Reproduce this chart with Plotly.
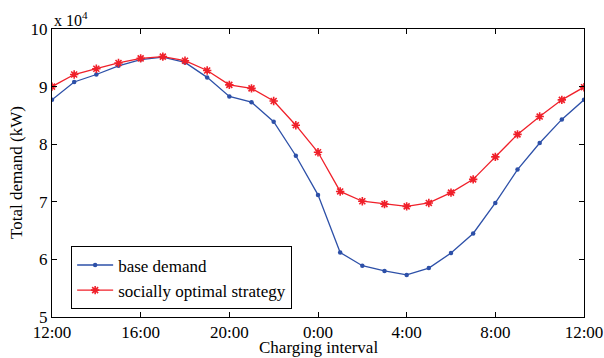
import plotly.graph_objects as go

hours = list(range(25))
tick_pos = [0, 4, 8, 12, 16, 20, 24]
tick_text = ["12:00", "16:00", "20:00", "0:00", "4:00", "8:00", "12:00"]
y_ticks = [5, 6, 7, 8, 9, 10]

# Demand in units of 10^4 kW
base_demand = [8.77, 9.08, 9.21, 9.36, 9.47, 9.51, 9.42, 9.16, 8.83, 8.73, 8.39,
               7.80, 7.12, 6.12, 5.89, 5.80, 5.73, 5.85, 6.11, 6.45, 6.98, 7.56,
               8.02, 8.43, 8.77]
social_opt = [9.00, 9.21, 9.31, 9.41, 9.49, 9.52, 9.45, 9.28, 9.03, 8.97, 8.75,
              8.33, 7.86, 7.18, 7.01, 6.96, 6.92, 6.98, 7.16, 7.39, 7.78, 8.17,
              8.48, 8.77, 8.99]

BLUE = "#2d50a8"
RED = "#f0202a"
FONT = "Liberation Serif"

fig = go.Figure()
fig.add_trace(go.Scatter(
    x=hours, y=base_demand, mode="lines+markers", name="base demand",
    line=dict(color=BLUE, width=1.3),
    marker=dict(color=BLUE, size=4.5, symbol="circle"),
))
fig.add_trace(go.Scatter(
    x=hours, y=social_opt, mode="lines+markers", name="socially optimal strategy",
    line=dict(color=RED, width=1.3),
    marker=dict(color=RED, size=7, symbol="asterisk-open", line=dict(color=RED, width=1.6)),
))

axis_common = dict(
    showline=True, linecolor="black", linewidth=1, mirror="ticks",
    ticks="inside", ticklen=5, tickcolor="black", showgrid=False, zeroline=False,
    tickfont=dict(family=FONT, size=17, color="black"), automargin=False,
)

fig.update_layout(
    width=604, height=358,
    margin=dict(l=52, r=20, t=29, b=41),
    paper_bgcolor="white", plot_bgcolor="white",
    font=dict(family=FONT, color="black"),
    showlegend=True,
    legend=dict(
        x=0.036, y=0.245, xanchor="left", yanchor="top",
        bgcolor="white", bordercolor="black", borderwidth=1,
        font=dict(family=FONT, size=17, color="black"),
        tracegroupgap=0, itemwidth=36,
    ),
    xaxis=dict(
        range=[0, 24], tickvals=tick_pos, ticktext=tick_text, ticklabelstandoff=0,
        **axis_common,
    ),
    yaxis=dict(
        range=[5, 10], tickvals=y_ticks, ticktext=[str(v) for v in y_ticks], ticklabelstandoff=0,
        **axis_common,
    ),
    annotations=[
        dict(text="x 10<sup>4</sup>", xref="paper", yref="paper", x=0, y=1,
             xanchor="left", yanchor="bottom", showarrow=False,
             font=dict(family=FONT, size=16, color="black"), yshift=-2),
        dict(text="Charging interval", xref="paper", yref="paper", x=0.5, y=0,
             xanchor="center", yanchor="middle", showarrow=False,
             font=dict(family=FONT, size=17, color="black"), yshift=-30),
        dict(text="Total demand (kW)", xref="paper", yref="paper", x=0, y=0.5,
             xanchor="center", yanchor="middle", showarrow=False, textangle=-90,
             font=dict(family=FONT, size=17, color="black"), xshift=-36),
    ],
)

fig.write_html("out.html", config={"displayModeBar": False},
               post_script="document.body.style.margin='0';")
